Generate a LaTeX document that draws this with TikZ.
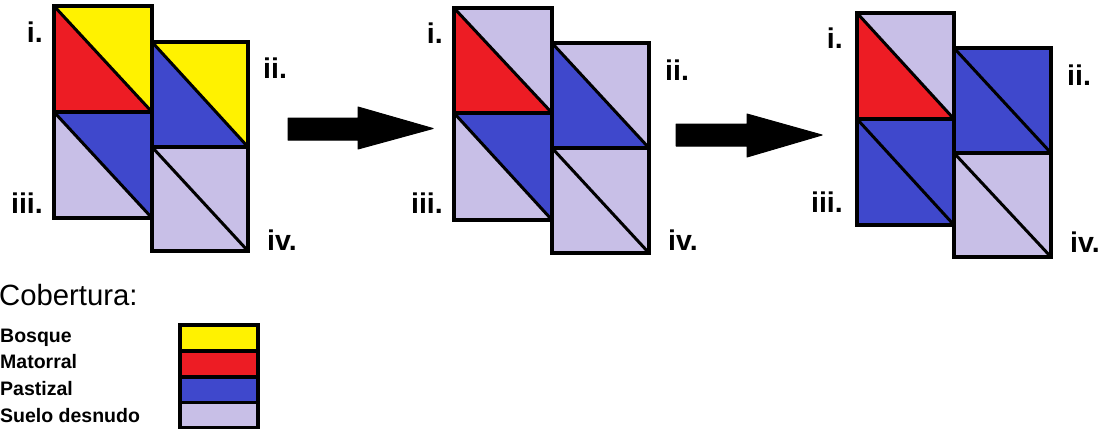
\documentclass[tikz,border=0pt]{standalone}
\usepackage{fontspec}
\setmainfont{Liberation Sans}
\definecolor{cyel}{HTML}{FFF200}
\definecolor{cred}{HTML}{ED1C24}
\definecolor{cblu}{HTML}{3F48CC}
\definecolor{clav}{HTML}{C8BFE7}
\newcommand\drawcell[6]{%
  \fill[#5] (#1,#2) -- (#1,#4) -- (#3,#4) -- cycle;
  \fill[#6] (#1,#2) -- (#3,#2) -- (#3,#4) -- cycle;
  \draw[diag] (#1,#2) -- (#3,#4);
  \draw[cellborder] (#1,#2) rectangle (#3,#4);
}
\tikzset{
  diag/.style={line width=3pt,black},
  cellborder/.style={line width=4pt,black},
  lab/.style={inner sep=0pt,font=\fontsize{28.5}{30}\selectfont\bfseries},
  leglab/.style={inner sep=0pt,anchor=base west,font=\fontsize{19.5}{22}\selectfont\bfseries},
  swatch/.style={draw=black,line width=3.5pt},
  bigarrow/.style={fill=black,draw=black,line width=1pt,line join=round}
}
\begin{document}
\begin{tikzpicture}[x=1pt,y=-1pt]
\useasboundingbox (0,0) rectangle (1107,429);
% group 1
\drawcell{54}{6}{152}{112}{cred}{cyel}
\drawcell{54}{112}{152}{218}{clav}{cblu}
\drawcell{152}{42}{248}{147}{cblu}{cyel}
\drawcell{152}{147}{248}{251}{clav}{clav}
\node[lab,anchor=base east] (g1i) at (43,42) {i.};
\node[lab,anchor=base east] (g1iii) at (43,213) {iii.};
\node[lab,anchor=base west] (g1ii) at (263,78) {ii.};
\node[lab,anchor=base west] (g1iv) at (267,250) {iv.};
% group 2
\drawcell{454}{8}{552}{113}{cred}{clav}
\drawcell{454}{113}{552}{220}{clav}{cblu}
\drawcell{552}{43}{649}{148}{cblu}{clav}
\drawcell{552}{148}{649}{253}{clav}{clav}
\node[lab,anchor=base east] (g2i) at (443,43) {i.};
\node[lab,anchor=base east] (g2iii) at (443,213) {iii.};
\node[lab,anchor=base west] (g2ii) at (665,80) {ii.};
\node[lab,anchor=base west] (g2iv) at (668,250) {iv.};
% group 3
\drawcell{857}{13}{954}{119}{cred}{clav}
\drawcell{857}{119}{954}{225}{cblu}{cblu}
\drawcell{954}{48}{1051}{153}{cblu}{cblu}
\drawcell{954}{153}{1051}{257}{clav}{clav}
\node[lab,anchor=base east] (g3i) at (843,48) {i.};
\node[lab,anchor=base east] (g3iii) at (843,212) {iii.};
\node[lab,anchor=base west] (g3ii) at (1067,85) {ii.};
\node[lab,anchor=base west] (g3iv) at (1070,252) {iv.};
% arrows
\draw[bigarrow] (288,118) -- (358,118) -- (358,107) -- (433,128.5) -- (358,149) -- (358,140) -- (288,140) -- cycle;
\draw[bigarrow] (676,124) -- (747,124) -- (747,114) -- (822,135) -- (747,157) -- (747,146) -- (676,146) -- cycle;
% legend
\node[inner sep=0pt,anchor=base west,font=\fontsize{29.3}{31}\selectfont] (cob) at (-1,305) {Cobertura:};
\node[leglab] (lb) at (0,342) {Bosque};
\node[leglab] (lm) at (0,368) {Matorral};
\node[leglab] (lp) at (0,395) {Pastizal};
\node[leglab] (ls) at (0,422) {Suelo desnudo};
\draw[swatch,fill=cyel] (180,325) rectangle (258,351);
\draw[swatch,fill=cred] (180,351) rectangle (258,377);
\draw[swatch,fill=cblu] (180,377) rectangle (258,402.5);
\draw[swatch,fill=clav] (180,402.5) rectangle (258,427.5);
\end{tikzpicture}
\end{document}
